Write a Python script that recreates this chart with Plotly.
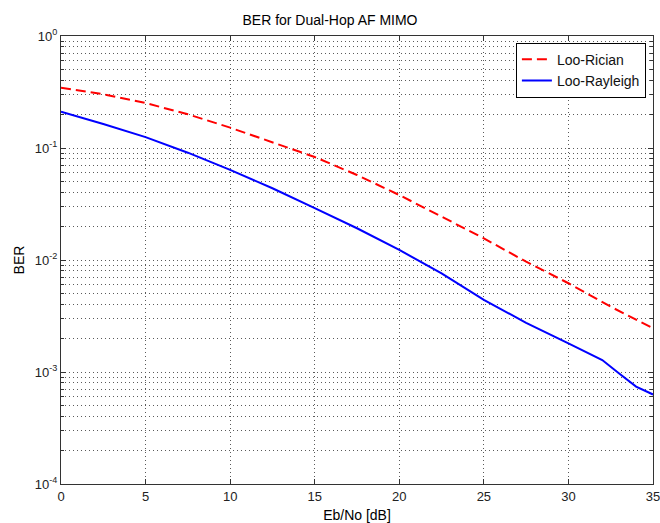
import plotly.graph_objects as go

# Data
ebno_rician = [0, 2.5, 5, 7.5, 10, 12.5, 15, 17.5, 20, 22.5, 25, 27.5, 30, 32.5, 35]
ber_rician = [0.345, 0.302, 0.252, 0.200, 0.152, 0.1116, 0.0831, 0.0574, 0.038,
              0.0244, 0.0156, 0.00966, 0.0062, 0.00383, 0.00246]

ebno_rayleigh = [0, 2.5, 5, 7.5, 10, 12.5, 15, 17.5, 20, 22.5, 25, 27.5, 30, 32, 33, 34, 35]
ber_rayleigh = [0.211, 0.164, 0.125, 0.0908, 0.0637, 0.0437, 0.029, 0.0192, 0.0123,
                0.0076, 0.0044, 0.00275, 0.0018, 0.00128, 0.00097, 0.00074, 0.00063]

x_ticks = [0, 5, 10, 15, 20, 25, 30, 35]
y_decades = [-4, -3, -2, -1, 0]
y_tickvals = [10.0 ** d for d in y_decades]
y_ticktext = ["10<sup>%d</sup>" % d for d in y_decades]
y_minorvals = [m * 10.0 ** d for d in y_decades[:-1] for m in range(2, 10)]

font_family = "Liberation Sans, Arial, sans-serif"
grid_color = "#5a5a5a"

fig = go.Figure()
fig.add_trace(go.Scatter(x=ebno_rician, y=ber_rician, mode="lines", name="Loo-Rician",
                         line=dict(color="#ff0000", width=2, dash="10px,5px")))
fig.add_trace(go.Scatter(x=ebno_rayleigh, y=ber_rayleigh, mode="lines", name="Loo-Rayleigh",
                         line=dict(color="#0000ff", width=2)))

fig.update_layout(
    width=660, height=523,
    margin=dict(l=61, r=7, t=36, b=39),
    paper_bgcolor="white", plot_bgcolor="white",
    font=dict(family=font_family, size=13, color="#111"),
    title=dict(text="BER for Dual-Hop AF MIMO", x=0.5, xanchor="center",
               y=1 - 20 / 523, yanchor="middle",
               font=dict(size=14, color="#000")),
    showlegend=True,
    legend=dict(x=0.988, xanchor="right", y=0.985, yanchor="top",
                bgcolor="white", bordercolor="#000", borderwidth=1,
                font=dict(size=14, color="#111"),
                tracegroupgap=0, itemwidth=30),
)

fig.update_xaxes(
    range=[0, 35], tickmode="array", tickvals=x_ticks, ticks="inside", ticklen=5, tickcolor="#333",
    showline=True, linecolor="#333", linewidth=1, mirror="allticks",
    showgrid=True, gridcolor=grid_color, griddash="1px,3px", gridwidth=1,
    zeroline=False, automargin=False, ticklabeloverflow="allow",
    title=dict(text="Eb/No [dB]", font=dict(size=14, color="#000"), standoff=7),
    tickfont=dict(size=13, color="#222"),
)
fig.update_yaxes(
    type="log", range=[-4, 0], tickmode="array", tickvals=y_tickvals, ticktext=y_ticktext,
    ticks="inside", ticklen=5, tickcolor="#333",
    showline=True, linecolor="#333", linewidth=1, mirror="allticks",
    showgrid=True, gridcolor=grid_color, griddash="1px,3px", gridwidth=1,
    minor=dict(tickmode="array", tickvals=y_minorvals, ticks="inside", ticklen=3,
               tickcolor="#333", showgrid=True,
               gridcolor=grid_color, griddash="1px,3px", gridwidth=1),
    zeroline=False, automargin=False, ticklabeloverflow="allow",
    title=dict(text="BER", font=dict(size=14, color="#000"), standoff=6),
    tickfont=dict(size=13, color="#222"),
)

fig.write_html("out.html", config={"displayModeBar": False},
               post_script="document.body.style.margin='0';")
